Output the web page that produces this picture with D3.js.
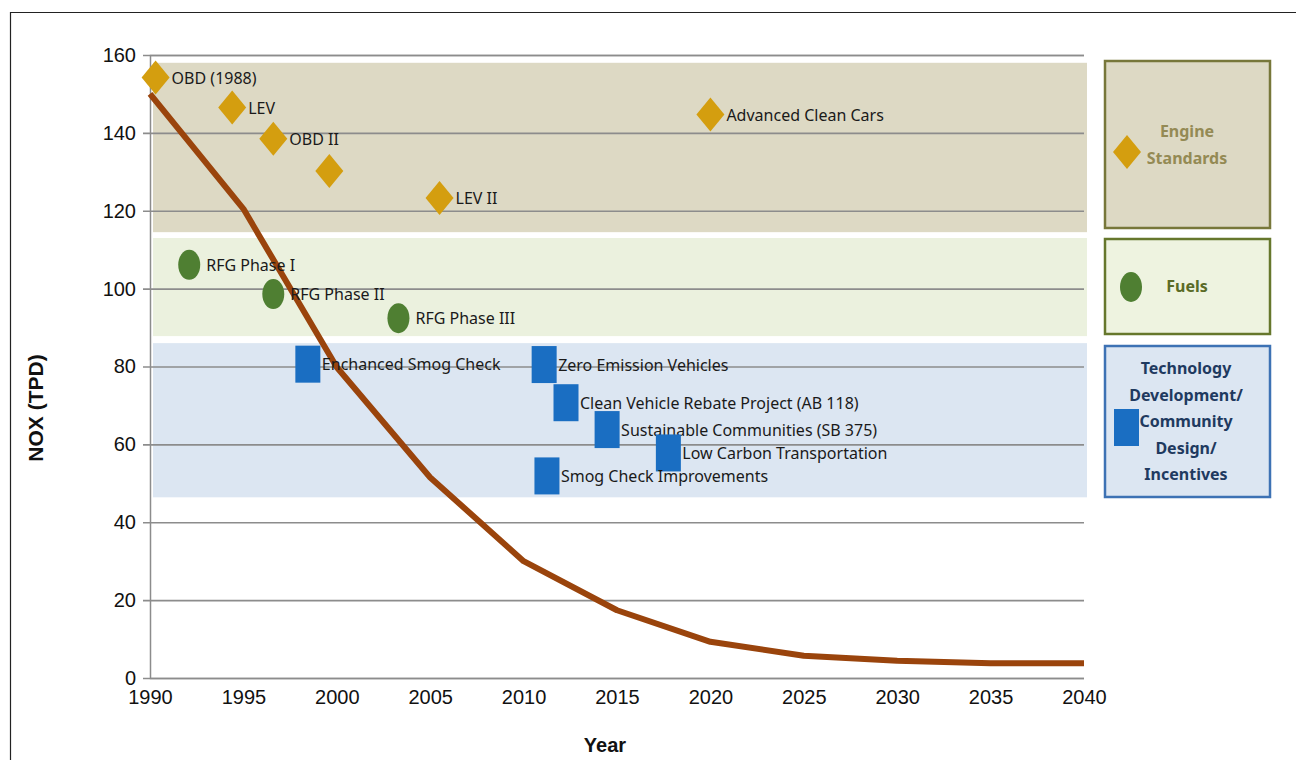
<!DOCTYPE html>
<html>
<head>
<meta charset="utf-8">
<script src="https://cdn.jsdelivr.net/npm/d3@7"></script>
<style>
  body { margin: 0; background: #fff; }
  svg { display: block; }
</style>
</head>
<body>
<svg id="chart" width="1296" height="760"></svg>
<script>
// NOx trend line
var years = [1990, 1995, 2000, 2005, 2010, 2015, 2020, 2025, 2030, 2035, 2040];
var nox = [150, 120.5, 79.8, 51.5, 30, 17.4, 9.3, 5.7, 4.4, 3.8, 3.8];

var yTicks = [0, 20, 40, 60, 80, 100, 120, 140, 160];
var xTicks = [1990, 1995, 2000, 2005, 2010, 2015, 2020, 2025, 2030, 2035, 2040];

// category bands (NOx range covered)
var bandNames = ["Engine Standards", "Fuels", "Technology"];
var bandLow = [114.5, 87.8, 46.4];
var bandHigh = [158, 113, 86];

// engine standards (diamonds)
var engineNames = ["OBD (1988)", "LEV", "OBD II", "", "LEV II", "Advanced Clean Cars"];
var engineYears = [1990.3, 1994.4, 1996.6, 1999.6, 2005.5, 2020.0];
var engineValues = [154.2, 146.5, 138.5, 130.2, 123.3, 144.7];

// fuels (circles)
var fuelNames = ["RFG Phase I", "RFG Phase II", "RFG Phase III"];
var fuelYears = [1992.1, 1996.6, 2003.3];
var fuelValues = [106.1, 98.6, 92.4];

// technology / community design / incentives (squares)
var techNames = ["Enchanced Smog Check", "Zero Emission Vehicles", "Clean Vehicle Rebate Project (AB 118)",
                 "Sustainable Communities (SB 375)", "Low Carbon Transportation", "Smog Check Improvements"];
var techYears = [1998.45, 2011.1, 2012.27, 2014.47, 2017.75, 2011.25];
var techValues = [80.6, 80.5, 70.7, 63.8, 57.8, 51.9];

var svg = d3.select("#chart");

var x = d3.scaleLinear().domain([1990, 2040]).range([150, 1084]);
var y = d3.scaleLinear().domain([0, 160]).range([678, 55]);

var labelFont = "'Noto Sans', 'Open Sans', sans-serif";
var axisFont = "'Liberation Sans', Arial, sans-serif";

// outer frame
svg.append("path")
  .attr("d", "M10.5,760 L10.5,12.5 L1296,12.5")
  .attr("fill", "none")
  .attr("stroke", "#222")
  .attr("stroke-width", 1.2);

// bands
var bandFill = ["#ddd9c4", "#ebf1de", "#dce6f2"];
svg.append("g").selectAll("rect")
  .data(bandNames)
  .enter().append("rect")
    .attr("x", x(1990) + 3)
    .attr("width", x(2040) - x(1990))
    .attr("y", function(d, i) { return y(bandHigh[i]); })
    .attr("height", function(d, i) { return y(bandLow[i]) - y(bandHigh[i]); })
    .attr("fill", function(d, i) { return bandFill[i]; });

// gridlines + y axis
var yAxis = d3.axisLeft(y)
  .tickValues(yTicks)
  .tickSize(-(x(2040) - x(1990)))
  .tickPadding(14);
var gy = svg.append("g")
  .attr("transform", "translate(" + x(1990) + ",0)")
  .call(yAxis);
gy.select(".domain").attr("stroke", "#8c8c8c").attr("stroke-width", 1.5);
gy.selectAll(".tick line").attr("stroke", "#8c8c8c").attr("stroke-width", 1.6).attr("x1", -7);
gy.selectAll(".tick text")
  .attr("font-family", axisFont)
  .attr("font-size", 20)
  .attr("fill", "#111");

// x axis
var xAxis = d3.axisBottom(x)
  .tickValues(xTicks)
  .tickFormat(d3.format("d"))
  .tickSize(0)
  .tickPadding(12);
var gx = svg.append("g")
  .attr("transform", "translate(0," + y(0) + ")")
  .call(xAxis);
gx.select(".domain").remove();
gx.selectAll(".tick text")
  .attr("font-family", axisFont)
  .attr("font-size", 20)
  .attr("fill", "#111");

// axis titles
svg.append("text")
  .attr("x", x(2015) - 12)
  .attr("y", 752)
  .attr("text-anchor", "middle")
  .attr("font-family", axisFont)
  .attr("font-weight", "bold")
  .attr("font-size", 20)
  .attr("fill", "#111")
  .text("Year");

svg.append("text")
  .attr("transform", "translate(43,408) rotate(-90)")
  .attr("text-anchor", "middle")
  .attr("font-family", axisFont)
  .attr("font-weight", "bold")
  .attr("font-size", 21)
  .attr("fill", "#111")
  .text("NOX (TPD)");

// trend line
var line = d3.line()
  .x(function(d, i) { return x(years[i]); })
  .y(function(d) { return y(d); });
svg.append("path")
  .datum(nox)
  .attr("d", line)
  .attr("fill", "none")
  .attr("stroke", "#9a440c")
  .attr("stroke-width", 6)
  .attr("stroke-linejoin", "round");

var diamond = "M0,-17 L14,0 L0,17 L-14,0 Z";

// engine markers
var eng = svg.append("g").selectAll("g")
  .data(engineNames)
  .enter().append("g")
    .attr("transform", function(d, i) { return "translate(" + x(engineYears[i]) + "," + y(engineValues[i]) + ")"; });
eng.append("path").attr("d", diamond).attr("fill", "#d49e0f");
eng.append("text")
  .attr("x", 16).attr("dy", "0.38em")
  .attr("font-family", labelFont).attr("font-size", 16).attr("fill", "#1a1a1a")
  .text(function(d) { return d; });

// fuel markers
var fuel = svg.append("g").selectAll("g")
  .data(fuelNames)
  .enter().append("g")
    .attr("transform", function(d, i) { return "translate(" + x(fuelYears[i]) + "," + y(fuelValues[i]) + ")"; });
fuel.append("ellipse").attr("rx", 11).attr("ry", 15).attr("fill", "#4f7f32");
fuel.append("text")
  .attr("x", 17).attr("dy", "0.38em")
  .attr("font-family", labelFont).attr("font-size", 16).attr("fill", "#1a1a1a")
  .text(function(d) { return d; });

// tech markers
var tech = svg.append("g").selectAll("g")
  .data(techNames)
  .enter().append("g")
    .attr("transform", function(d, i) { return "translate(" + x(techYears[i]) + "," + y(techValues[i]) + ")"; });
tech.append("rect").attr("x", -12.5).attr("y", -18.5).attr("width", 25).attr("height", 37).attr("fill", "#1a6ec2");
tech.append("text")
  .attr("x", 14).attr("dy", "0.38em")
  .attr("font-family", labelFont).attr("font-size", 16).attr("fill", "#1a1a1a")
  .text(function(d) { return d; });

// legend boxes on the right
var legendFill = ["#ddd9c4", "#eef3e0", "#dce6f2"];
var legendStroke = ["#77773a", "#66772c", "#3d72b4"];
var legendText = ["#948a54", "#5a6b26", "#1f3a60"];
var legendLines = [["Engine", "Standards"], ["Fuels"], ["Technology", "Development/", "Community", "Design/", "Incentives"]];
var legendTop = [61, 239, 346];
var legendBottom = [228, 334, 497];

var lg = svg.append("g").selectAll("g")
  .data(bandNames)
  .enter().append("g");
lg.append("rect")
  .attr("x", 1105).attr("width", 165)
  .attr("y", function(d, i) { return legendTop[i]; })
  .attr("height", function(d, i) { return legendBottom[i] - legendTop[i]; })
  .attr("fill", function(d, i) { return legendFill[i]; })
  .attr("stroke", function(d, i) { return legendStroke[i]; })
  .attr("stroke-width", 2.5);
lg.each(function(d, i) {
  var g = d3.select(this);
  var mid = (legendTop[i] + legendBottom[i]) / 2;
  var lines = legendLines[i];
  var cx = i === 2 ? 1186 : 1187;
  g.selectAll("text").data(lines).enter().append("text")
    .attr("x", cx)
    .attr("y", function(t, j) { return mid + (j - (lines.length - 1) / 2) * 26.5; })
    .attr("dy", "0.36em")
    .attr("text-anchor", "middle")
    .attr("font-family", labelFont)
    .attr("font-weight", "bold")
    .attr("font-size", 16)
    .attr("fill", legendText[i])
    .text(function(t) { return t; });
});
svg.append("path").attr("d", diamond).attr("transform", "translate(1127,152)").attr("fill", "#d49e0f");
svg.append("ellipse").attr("cx", 1131).attr("cy", 287).attr("rx", 11).attr("ry", 15).attr("fill", "#4f7f32");
svg.append("rect").attr("x", 1114).attr("y", 409).attr("width", 25).attr("height", 37).attr("fill", "#1a6ec2");
</script>
</body>
</html>
